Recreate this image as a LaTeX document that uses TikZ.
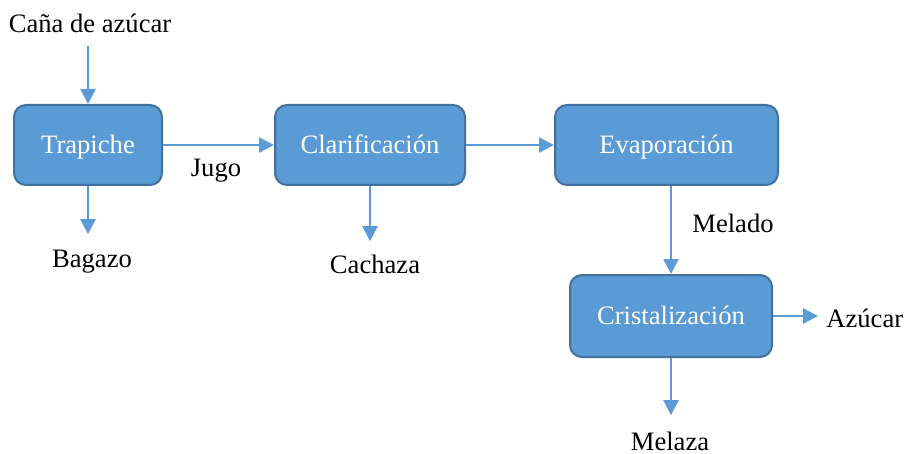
\documentclass[tikz,border=0pt]{standalone}
\usepackage{fontspec}
\setmainfont{Liberation Serif}
\usepackage{xcolor}
\usetikzlibrary{arrows.meta, positioning}
\definecolor{boxfill}{HTML}{5B9BD5}
\definecolor{boxline}{HTML}{41719C}

\begin{document}
\begin{tikzpicture}[x=0.5pt, y=-0.5pt]
    % Setup the styles for the process boxes and the flow labels
        \tikzset{box style/.style={draw=boxline,
                                   line width=1pt,
                                   fill=boxfill,
                                   rounded corners=6pt,
                                   minimum height=40pt,
                                   text=white,
                                   text height=0.95em,
                                   text depth=0.12em,
                                   font=\fontsize{13.3}{16}\selectfont},
                 flow label/.style={anchor=base,
                                    inner sep=0pt,
                                    font=\fontsize{13.3}{16}\selectfont},
                 flow arrow/.style={draw=boxfill,
                                    fill=boxfill,
                                    line width=1.25pt,
                                    -{Triangle[length=7.5pt, width=7.5pt]}}}

        \useasboundingbox (0, 0) rectangle (904, 454);

        % Draw the process boxes
        \node[box style, minimum width=74pt]    at (88, 145)    (trapiche) {Trapiche};
        \node[box style, minimum width=95pt]    at (370, 145)   (clarif)   {Clarificación};
        \node[box style, minimum width=111.5pt] at (666.5, 145) (evap)     {Evaporación};
        \node[box style, minimum width=101pt, minimum height=41pt] at (671, 316) (crist) {Cristalización};

        % Draw the inputs and outputs
        \node[flow label] at (90, 33)   (cana)    {Caña de azúcar};
        \node[flow label] at (216, 177) (jugo)    {Jugo};
        \node[flow label] at (92, 267)  (bagazo)  {Bagazo};
        \node[flow label] at (375, 273) (cachaza) {Cachaza};
        \node[flow label] at (733, 233) (melado)  {Melado};
        \node[flow label, anchor=base west] at (826, 327) (azucar) {Azúcar};
        \node[flow label] at (670, 450) (melaza)  {Melaza};

        % Connect the boxes with arrows
        \path[every edge/.style={flow arrow}]
            (trapiche.north |- cana.south) edge[shorten <=6pt] (trapiche)
            (trapiche)       edge                   (clarif)
            (trapiche.south) edge[shorten >=7.5pt]  (trapiche.south |- bagazo.north)
            (clarif.south)   edge[shorten >=6.5pt]  (clarif.south |- cachaza.north)
            (clarif)         edge                   (evap)
            (crist.north |- evap.south) edge        (crist)
            (crist)          edge[shorten >=4pt]    (crist -| azucar.west)
            (crist.south)    edge[shorten >=8pt]    (crist.south |- melaza.north);
\end{tikzpicture}
\end{document}
